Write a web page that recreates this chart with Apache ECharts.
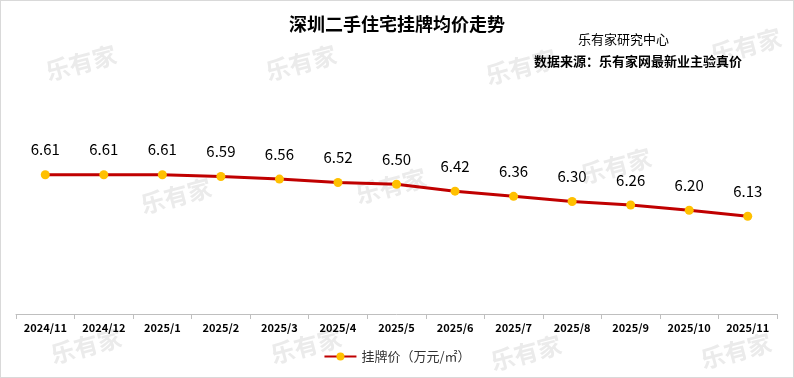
<!DOCTYPE html>
<html><head><meta charset="utf-8">
<script src="https://cdn.jsdelivr.net/npm/echarts@6/dist/echarts.min.js"></script>
<style>html,body{margin:0;padding:0;background:#fff}#c{width:794px;height:378px;box-sizing:border-box;border:1px solid #d9d9d9}</style>
</head><body><div id="c"></div>
<script>
const categories = ['2024/11','2024/12','2025/1','2025/2','2025/3','2025/4','2025/5','2025/6','2025/7','2025/8','2025/9','2025/10','2025/11'];
const prices = [6.61,6.61,6.61,6.59,6.56,6.52,6.50,6.42,6.36,6.30,6.26,6.20,6.13];
const seriesName = '挂牌价（万元/㎡）';
const titleText = '深圳二手住宅挂牌均价走势';
const subText1 = '乐有家研究中心';
const subText2 = '数据来源：乐有家网最新业主验真价';
const watermarks = [[80,62],[300,62],[520,66],[745,45],[175,195],[390,185],[615,165],[85,345],[305,345],[525,352],[735,350]];

const chart = echarts.init(document.getElementById('c'));
const font = '"Microsoft YaHei","Noto Sans CJK SC",sans-serif';
const wm = watermarks.map(p => ({
  type:'text', x:p[0], y:p[1], rotation: 0.26, z: -10, silent:true,
  style:{text:'乐有家', fill:'#ebebeb', font:'bold 24px '+font, textAlign:'center', textVerticalAlign:'middle'}
}));
chart.setOption({
  animation:false,
  textStyle:{fontFamily:font},
  title:{text:titleText, left:'center', top:9, textStyle:{fontSize:18, fontWeight:'bold', color:'#000'}},
  graphic: wm.concat([
    {type:'text', left:577, top:32, style:{text:subText1, fill:'#000', font:'13px '+font}},
    {type:'text', left:533, top:54, style:{text:subText2, fill:'#000', font:'bold 13px '+font}}
  ]),
  legend:{bottom:9, left:'center', data:[seriesName], itemWidth:32, itemHeight:10,
    textStyle:{fontSize:13, color:'#333'}},
  grid:{left:15, right:16, top:140, bottom:63},
  xAxis:{type:'category', data:categories, boundaryGap:true,
    axisLine:{lineStyle:{color:'#bfbfbf'}},
    axisTick:{show:true, alignWithLabel:false, length:5, lineStyle:{color:'#bfbfbf'}},
    axisLabel:{color:'#000', fontSize:11, fontWeight:'bold', margin:8, interval:0}},
  yAxis:{type:'value', min:5, max:7, show:false, splitLine:{show:false}},
  series:[{name:seriesName, type:'line', data:prices,
    lineStyle:{color:'#c00000', width:3},
    itemStyle:{color:'#ffc000'},
    symbol:'circle', symbolSize:9, showAllSymbol:true,
    label:{show:true, position:'top', distance:13, color:'#000', fontSize:15, formatter:p=>p.value.toFixed(2)}}]
});
</script></body></html>
